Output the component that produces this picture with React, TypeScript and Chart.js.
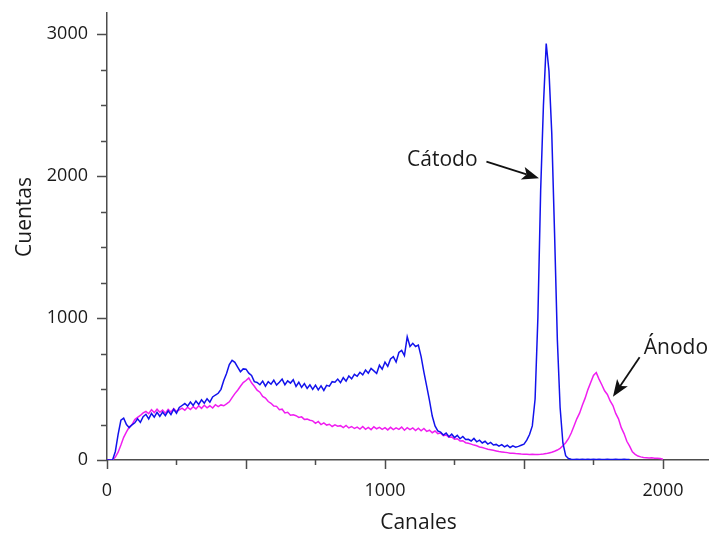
import { useEffect, useRef } from 'react';
import { Chart, registerables } from 'chart.js';

Chart.register(...registerables);

// Channel spacing of the sampled spectra
const CHANNEL_STEP = 10;

// Cátodo spectrum (counts every 10 channels, starting at channel 0)
const cathodeCounts = [
  0, 0, 0, 60, 180, 280, 295, 250, 228, 248,
  262, 290, 265, 305, 322, 290, 328, 302, 336, 308,
  338, 312, 346, 320, 358, 330, 370, 384, 398, 380,
  408, 384, 416, 392, 424, 400, 432, 408, 444, 458,
  470, 498, 560, 610, 672, 702, 688, 655, 622, 642,
  640, 612, 596, 552, 546, 530, 556, 520, 552, 534,
  562, 528, 548, 570, 530, 558, 542, 566, 518, 548,
  512, 538, 504, 530, 498, 528, 494, 522, 490, 526,
  520, 552, 548, 570, 545, 580, 556, 592, 572, 604,
  590, 618, 600, 634, 612, 645, 628, 610, 668, 640,
  690, 660, 712, 728, 690, 758, 772, 735, 868, 800,
  822, 800, 810, 728, 620, 520, 420, 310, 240, 205,
  196, 176, 190, 164, 182, 158, 174, 150, 166, 144,
  146, 134, 152, 128, 140, 120, 132, 112, 124, 106,
  110, 98, 108, 92, 104, 88, 100, 90, 96, 104,
  112, 140, 180, 240, 430, 1000, 1900, 2500, 2935, 2740,
  2300, 1600, 850, 370, 120, 30, 10, 6, 4, 5,
  4, 6, 3, 5, 4, 6, 3, 5, 4, 3,
  5, 3, 4, 6, 3, 4, 5, 3, 4,
];

// Ánodo spectrum (counts every 10 channels, starting at channel 0)
const anodeCounts = [
  0, 0, 0, 20, 55, 105, 160, 198, 232, 250,
  285, 300, 314, 332, 342, 326, 354, 334, 358, 336,
  352, 330, 356, 338, 362, 342, 354, 366, 350, 372,
  356, 376, 360, 382, 364, 386, 368, 382, 366, 390,
  376, 388, 382, 395, 410, 440, 468, 492, 520, 545,
  560, 578, 544, 520, 492, 478, 448, 436, 412, 400,
  380, 378, 354, 358, 332, 336, 316, 318, 312, 300,
  304, 286, 288, 280, 276, 258, 272, 250, 262, 246,
  252, 236, 248, 238, 242, 228, 244, 226, 236, 222,
  232, 218, 236, 216, 230, 214, 234, 220, 230, 216,
  228, 212, 230, 214, 226, 216, 232, 210, 228, 214,
  226, 208, 224, 206, 222, 202, 210, 192, 204, 186,
  190, 172, 176, 160, 162, 146, 150, 134, 136, 122,
  118, 112, 105, 100, 92, 88, 82, 76, 72, 68,
  64, 60, 57, 54, 52, 48, 47, 45, 44, 42,
  41, 40, 39, 40, 38, 39, 40, 42, 45, 50,
  55, 62, 70, 82, 100, 122, 150, 190, 240, 290,
  330, 386, 436, 496, 546, 596, 616, 570, 530, 488,
  462, 416, 384, 328, 290, 228, 186, 132, 98, 58,
  40, 28, 22, 18, 16, 14, 15, 12, 13, 10,
  5,
];

// Axis ranges and ticks
const X_MAX = 2162;
const Y_MAX = 3150;
const xTickValues = [0, 250, 500, 750, 1000, 1250, 1500, 1750, 2000];
const xMajorTicks = [0, 500, 1000, 1500, 2000];
const xLabelValues = [0, 1000, 2000];
const yTickValues = [0, 250, 500, 750, 1000, 1250, 1500, 1750, 2000, 2250, 2500, 2750, 3000];
const yLabelValues = [0, 1000, 2000, 3000];

// Titles
const xTitle = 'Canales';
const yTitle = 'Cuentas';

// Annotations: label, text anchor (channel, counts), arrow from / to (channel, counts)
const annotationLabels = ['Cátodo', 'Ánodo'];
const annotationAlign = ['right', 'left'];
const annotationTextAt = [[1333, 2072], [1931, 745]];
const annotationArrowFrom = [[1365, 2102], [1916, 724]];
const annotationArrowTo = [[1554, 1985], [1820, 446]];

const AXIS_COLOR = '#4d4d4d';
const TEXT_COLOR = '#1a1a1a';
const CATHODE_COLOR = '#1212ec';
const ANODE_COLOR = '#f01ef0';
const FONT = '"Open Sans", "Noto Sans", sans-serif';

const toPoints = (counts: number[]) => counts.map((v, i) => ({ x: i * CHANNEL_STEP, y: v }));

const decorPlugin = {
  id: 'decor',
  afterDraw(chart: any) {
    const { ctx, chartArea, scales } = chart;
    const x = scales.x;
    const y = scales.y;
    ctx.save();
    // tick marks
    ctx.strokeStyle = AXIS_COLOR;
    ctx.lineWidth = 1.5;
    ctx.beginPath();
    for (const v of xTickValues) {
      const px = Math.round(x.getPixelForValue(v)) + 0.5;
      const len = xMajorTicks.includes(v) ? 9 : 5;
      ctx.moveTo(px, chartArea.bottom);
      ctx.lineTo(px, chartArea.bottom + len);
    }
    for (const v of yTickValues) {
      const py = Math.round(y.getPixelForValue(v)) + 0.5;
      const len = yLabelValues.includes(v) ? 10 : 6;
      ctx.moveTo(chartArea.left, py);
      ctx.lineTo(chartArea.left - len, py);
    }
    ctx.stroke();

    // axis titles
    ctx.fillStyle = TEXT_COLOR;
    ctx.font = `21px ${FONT}`;
    ctx.textAlign = 'center';
    ctx.textBaseline = 'alphabetic';
    ctx.fillText(xTitle, (chartArea.left + chartArea.right) / 2 + 11, 529);
    ctx.save();
    ctx.translate(31, 217);
    ctx.rotate(-Math.PI / 2);
    ctx.fillText(yTitle, 0, 0);
    ctx.restore();

    // annotations
    ctx.font = `21px ${FONT}`;
    annotationLabels.forEach((label, i) => {
      const tx = x.getPixelForValue(annotationTextAt[i][0]);
      const ty = y.getPixelForValue(annotationTextAt[i][1]);
      ctx.textAlign = annotationAlign[i];
      ctx.fillStyle = TEXT_COLOR;
      ctx.fillText(label, tx, ty);

      const x0 = x.getPixelForValue(annotationArrowFrom[i][0]);
      const y0 = y.getPixelForValue(annotationArrowFrom[i][1]);
      const x1 = x.getPixelForValue(annotationArrowTo[i][0]);
      const y1 = y.getPixelForValue(annotationArrowTo[i][1]);
      const ang = Math.atan2(y1 - y0, x1 - x0);
      const headLen = 17;
      const headHalf = 6.5;
      const notch = 4;
      const bx = x1 - headLen * Math.cos(ang);
      const by = y1 - headLen * Math.sin(ang);
      ctx.strokeStyle = '#111';
      ctx.lineWidth = 1.8;
      ctx.beginPath();
      ctx.moveTo(x0, y0);
      ctx.lineTo(bx + notch * Math.cos(ang), by + notch * Math.sin(ang));
      ctx.stroke();
      ctx.fillStyle = '#111';
      ctx.beginPath();
      ctx.moveTo(x1, y1);
      ctx.lineTo(bx + headHalf * Math.sin(ang), by - headHalf * Math.cos(ang));
      ctx.lineTo(bx + notch * Math.cos(ang), by + notch * Math.sin(ang));
      ctx.lineTo(bx - headHalf * Math.sin(ang), by + headHalf * Math.cos(ang));
      ctx.closePath();
      ctx.fill();
    });
    ctx.restore();
  },
};

export default function App() {
  const canvasRef = useRef<HTMLCanvasElement | null>(null);

  useEffect(() => {
    const canvas = canvasRef.current;
    if (!canvas) return;
    const chart = new Chart(canvas, {
      type: 'line',
      data: {
        datasets: [
          {
            label: 'Cátodo',
            data: toPoints(cathodeCounts),
            borderColor: CATHODE_COLOR,
            borderWidth: 1.5,
            pointRadius: 0,
            tension: 0,
            fill: false,
          },
          {
            label: 'Ánodo',
            data: toPoints(anodeCounts),
            borderColor: ANODE_COLOR,
            borderWidth: 1.5,
            pointRadius: 0,
            tension: 0,
            fill: false,
          },
        ],
      },
      options: {
        responsive: false,
        animation: false,
        events: [],
        layout: { padding: { top: 13, right: 6, left: 0, bottom: 0 } },
        plugins: {
          legend: { display: false },
          tooltip: { enabled: false },
        },
        scales: {
          x: {
            type: 'linear',
            min: 0,
            max: X_MAX,
            grid: { display: false, drawTicks: false },
            border: { display: true, color: AXIS_COLOR, width: 1.5 },
            afterBuildTicks: (scale: any) => {
              scale.ticks = xLabelValues.map((v) => ({ value: v }));
            },
            afterFit: (scale: any) => {
              scale.height = 73;
              scale.paddingLeft = 0;
              scale.paddingRight = 0;
            },
            ticks: {
              autoSkip: false,
              maxRotation: 0,
              padding: 20,
              color: TEXT_COLOR,
              font: { family: FONT, size: 18 },
              callback: (v: any) => String(v),
            },
          },
          y: {
            type: 'linear',
            min: 0,
            max: Y_MAX,
            grid: { display: false, drawTicks: false },
            border: { display: true, color: AXIS_COLOR, width: 1.5 },
            afterBuildTicks: (scale: any) => {
              scale.ticks = yLabelValues.map((v) => ({ value: v }));
            },
            afterFit: (scale: any) => {
              scale.width = 107;
              scale.paddingTop = 0;
              scale.paddingBottom = 0;
            },
            ticks: {
              autoSkip: false,
              padding: 19,
              color: TEXT_COLOR,
              font: { family: FONT, size: 18 },
              callback: (v: any) => String(v),
            },
          },
        },
      },
      plugins: [decorPlugin],
    });
    return () => chart.destroy();
  }, []);

  return (
    <div style={{ position: 'fixed', left: 0, top: 0, width: 714, height: 533, background: '#fff' }}>
      <canvas ref={canvasRef} width={714} height={533} />
    </div>
  );
}
